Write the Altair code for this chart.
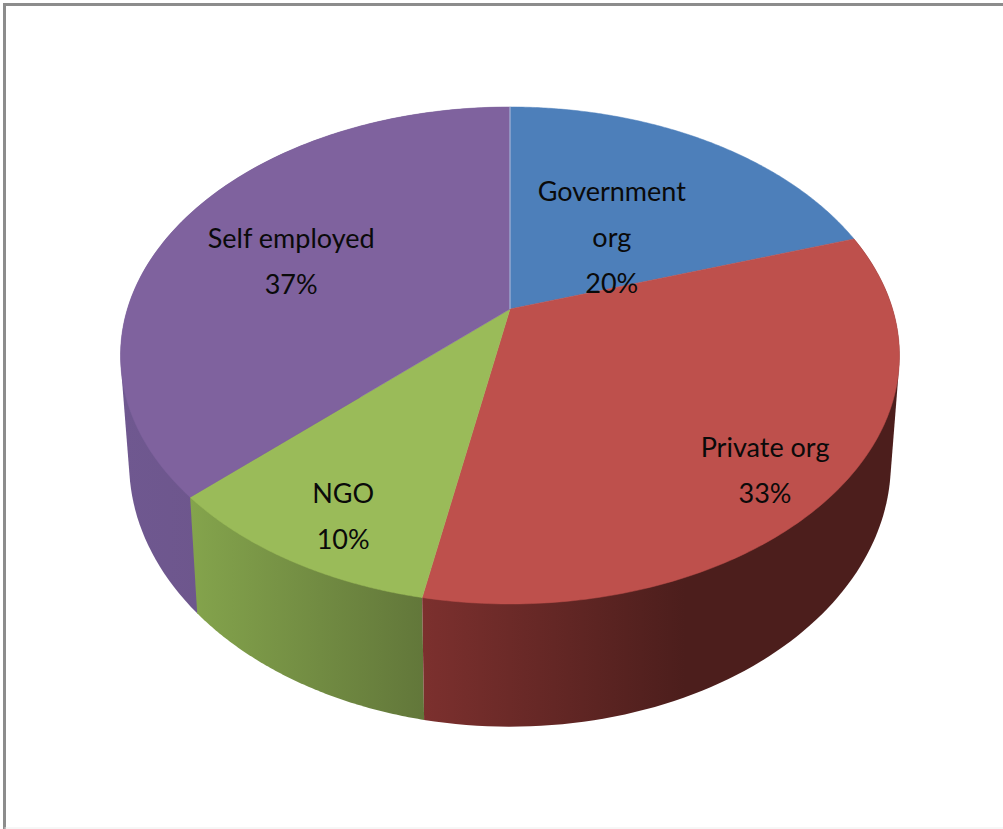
import altair as alt
import numpy as np
import pandas as pd

# Employment sectors and their shares (percent)
categories = ["Government org", "Private org", "NGO", "Self employed"]
label_lines = ["Government\norg\n20%", "Private org\n33%", "NGO\n10%", "Self employed\n37%"]
shares = [20, 33, 10, 37]
top_colors = ["#4D7FBA", "#BE504C", "#9ABB59", "#7F629E"]

# Side-wall shading, left to right, for the slices that face the viewer.
# Listed back to front: each wall's hidden part is overpainted by the next one.
side_stops = {
    "Self employed": [(0, "#6F5890"), (1, "#674F80")],
    "NGO": [(0, "#84A44C"), (1, "#62773A")],
    "Private org": [(0, "#7C302E"), (0.55, "#4C1E1C"), (1, "#4C1E1C")],
}

# Where each label's first line sits on its slice: radial fraction and turn away from the mid-angle
label_radius = [0.616, 0.795, 0.772, 0.682]
label_turn = [-7.6, -0.6, 0.8, 4.0]

W, H = 1003, 829
CX, CY = 510, 309          # projected pie centre
A, B, K = 382.6, 239.8, 0.187  # perspective of the tilted disc
WALL_X, WALL_Y, WALL_DY = 0.978, 1.0625, 85  # how the lower rim follows from the upper rim


def project(turn_deg, r=1.0):
    """Project a point of the disc (degrees clockwise from twelve o'clock) to the canvas."""
    t = np.radians(turn_deg)
    u, v = r * np.sin(t), r * np.cos(t)
    w = 1 + K * v
    return CX + A * u / w, CY - B * v / w


def lower_rim(x, y):
    return CX + (x - CX) * WALL_X, y * WALL_Y + WALL_DY


def convex_hull(points):
    pts = sorted(set(points))

    def half(seq):
        out = []
        for p in seq:
            while len(out) > 1 and (out[-1][0] - out[-2][0]) * (p[1] - out[-2][1]) - (
                out[-1][1] - out[-2][1]
            ) * (p[0] - out[-2][0]) <= 0:
                out.pop()
            out.append(p)
        return out[:-1]

    return half(pts) + half(pts[::-1])


x_scale = alt.Scale(domain=[0, W], range=[0, W], nice=False, zero=False)
y_scale = alt.Scale(domain=[0, H], range=[0, H], nice=False, zero=False)


def outline(points, **mark):
    frame = pd.DataFrame({"x": [p[0] for p in points], "y": [p[1] for p in points], "seq": range(len(points))})
    return (
        alt.Chart(frame)
        .mark_line(**mark)
        .encode(
            x=alt.X("x:Q", scale=x_scale, axis=None),
            y=alt.Y("y:Q", scale=y_scale, axis=None),
            order="seq:Q",
        )
    )


edges = np.concatenate([[0], np.cumsum(shares)]) * 3.6
layers = []

# Side walls go first so the top faces cover their hidden parts
for name, stops in side_stops.items():
    i = categories.index(name)
    turns = np.linspace(edges[i], edges[i + 1], 90)
    top = [tuple(map(float, project(t))) for t in turns]
    low = [tuple(map(float, lower_rim(*p))) for p in top]
    hull = convex_hull(top + low)
    hull.append(hull[0])
    gradient = alt.Gradient(
        gradient="linear",
        x1=0, x2=1, y1=0, y2=0,
        stops=[alt.GradientStop(offset=o, color=c) for o, c in stops],
    )
    layers.append(outline(hull, fill=gradient, strokeWidth=0))

# Top faces
for color, start, end in zip(top_colors, edges[:-1], edges[1:]):
    turns = np.linspace(start, end, 160)
    pts = [(float(CX), float(CY))] + [tuple(map(float, project(t))) for t in turns] + [(float(CX), float(CY))]
    layers.append(outline(pts, fill=color, stroke=color, strokeWidth=0.5))

# Pale seam on the twelve o'clock edge
layers.append(outline([(float(CX), float(CY)), tuple(map(float, project(0)))], stroke="#A9C3E2", strokeWidth=1))

# Slice labels
mids = (edges[:-1] + edges[1:]) / 2
spots = [project(m + d, r) for m, d, r in zip(mids, label_turn, label_radius)]
labels = pd.DataFrame({"x": [s[0] for s in spots], "y": [s[1] for s in spots], "text": label_lines})
layers.append(
    alt.Chart(labels)
    .mark_text(
        font="Lato",
        fontSize=27,
        color="#0A0A0A",
        lineBreak="\n",
        lineHeight=46,
        align="center",
        baseline="middle",
        dy=2,
    )
    .encode(
        x=alt.X("x:Q", scale=x_scale, axis=None),
        y=alt.Y("y:Q", scale=y_scale, axis=None),
        text="text:N",
    )
)

# Grey frame along the top and left, faint along the bottom
layers.append(outline([(4.5, 829.0), (4.5, 4.5), (1003.0, 4.5)], stroke="#8C8C8C", strokeWidth=3))
layers.append(outline([(4.5, 828.0), (1003.0, 828.0)], stroke="#EEEEEE", strokeWidth=1))

chart = (
    alt.layer(*layers)
    .properties(
        width=W,
        height=H,
        padding=0,
        background="white",
        autosize=alt.AutoSizeParams(type="none", contains="padding"),
    )
    .configure_view(stroke=None)
)

chart.save("out.html", embed_options={"renderer": "svg", "actions": False})
